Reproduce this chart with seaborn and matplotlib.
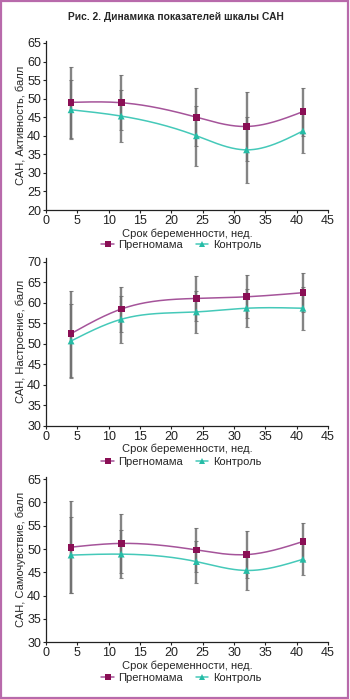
import numpy as np
import pandas as pd
import matplotlib
matplotlib.use('Agg')
import matplotlib.pyplot as plt
import seaborn as sns
from matplotlib.lines import Line2D
from matplotlib.patches import Rectangle

sns.set_style('ticks')
plt.rcParams['font.family'] = ['Liberation Sans', 'DejaVu Sans']

weeks = [4, 12, 24, 32, 41]

act_preg = [49.0, 48.9, 45.0, 42.5, 46.5]
act_preg_err = [9.5, 7.4, 7.8, 9.4, 6.5]
act_ctrl = [47.0, 45.3, 40.0, 36.2, 41.3]
act_ctrl_err = [8.0, 6.9, 8.1, 8.8, 6.0]

mood_preg = [52.5, 58.5, 61.1, 61.5, 62.5]
mood_preg_err = [10.5, 5.5, 5.4, 5.3, 4.8]
mood_ctrl = [50.7, 56.0, 57.8, 58.7, 58.7]
mood_ctrl_err = [9.0, 5.8, 5.1, 4.7, 5.2]

feel_preg = [50.4, 51.2, 49.8, 48.8, 51.6]
feel_preg_err = [9.9, 6.3, 4.7, 5.0, 3.9]
feel_ctrl = [48.7, 48.9, 47.3, 45.4, 47.8]
feel_ctrl_err = [8.1, 5.1, 4.5, 4.1, 3.4]

groups = ['Прегномама', 'Контроль']
ylabels = ['САН, Активность, балл', 'САН, Настроение, балл', 'САН, Самочувствие, балл']
ylims = [(20, 65.5), (30, 71), (30, 65.5)]
yticks = [range(20, 66, 5), range(30, 71, 5), range(30, 66, 5)]

line_col = {'Прегномама': '#a5549a', 'Контроль': '#45c9b9'}
mark_col = {'Прегномама': '#8a0f55', 'Контроль': '#26bca6'}
markers = {'Прегномама': 's', 'Контроль': '^'}


def spline(x, y, n=200):
    # natural cubic spline, only used to draw the smooth connecting line
    x = np.asarray(x, float)
    y = np.asarray(y, float)
    k = len(x)
    h = np.diff(x)
    A = np.zeros((k, k))
    b = np.zeros(k)
    A[0, 0] = A[-1, -1] = 1
    for i in range(1, k - 1):
        A[i, i - 1] = h[i - 1]
        A[i, i] = 2 * (h[i - 1] + h[i])
        A[i, i + 1] = h[i]
        b[i] = 6 * ((y[i + 1] - y[i]) / h[i] - (y[i] - y[i - 1]) / h[i - 1])
    M = np.linalg.solve(A, b)
    xs = np.linspace(x[0], x[-1], n)
    idx = np.clip(np.searchsorted(x, xs) - 1, 0, k - 2)
    x0, x1 = x[idx], x[idx + 1]
    hh = x1 - x0
    t0, t1 = x1 - xs, xs - x0
    ys = (M[idx] * t0**3 + M[idx + 1] * t1**3) / (6 * hh) \
        + (y[idx] / hh - M[idx] * hh / 6) * t0 \
        + (y[idx + 1] / hh - M[idx + 1] * hh / 6) * t1
    return xs, ys


panels = [
    (act_preg, act_preg_err, act_ctrl, act_ctrl_err),
    (mood_preg, mood_preg_err, mood_ctrl, mood_ctrl_err),
    (feel_preg, feel_preg_err, feel_ctrl, feel_ctrl_err),
]

W, H = 350, 699
fig = plt.figure(figsize=(W / 100, H / 100), dpi=100)
fig.patches.append(Rectangle((0.003, 0.002), 0.992, 0.996, transform=fig.transFigure,
                             fill=False, edgecolor='#b86aab', linewidth=1.6))
fig.text(0.503, 0.9757, 'Рис. 2. Динамика показателей шкалы САН',
         ha='center', va='center', fontsize=7.4, fontweight='bold')

# axes boxes in pixels: left, top, right, bottom
boxes = [(46, 41.1, 328, 210), (46, 257.9, 328, 425.7), (46, 476.7, 328, 642.3)]
legend_y = [245, 462, 678]

for k, (pv, pe, cv, ce) in enumerate(panels):
    l, t, r, b = boxes[k]
    ax = fig.add_axes([l / W, 1 - b / H, (r - l) / W, (b - t) / H])
    df = pd.DataFrame({
        'week': weeks * 2,
        'score': pv + cv,
        'err': pe + ce,
        'group': [groups[0]] * 5 + [groups[1]] * 5,
    })
    for g in groups:
        d = df[df['group'] == g]
        ax.errorbar(d['week'], d['score'], yerr=d['err'], fmt='none',
                    ecolor='#6f6f6f', elinewidth=1.7, capsize=1.6, capthick=0.8,
                    alpha=0.85, zorder=1)
    for g in groups:
        d = df[df['group'] == g]
        xs, ys = spline(d['week'], d['score'])
        sns.lineplot(x=xs, y=ys, ax=ax, color=line_col[g], linewidth=1.1,
                     sort=False, zorder=2)
    sns.scatterplot(data=df, x='week', y='score', hue='group', style='group',
                    markers=markers, palette=mark_col, s=24, linewidth=0,
                    ax=ax, zorder=3, legend=False)
    ax.set_xlim(0, 45)
    ax.set_ylim(*ylims[k])
    ax.set_xticks(range(0, 46, 5))
    ax.set_yticks(list(yticks[k]))
    sns.despine(ax=ax)
    for s in ['left', 'bottom']:
        ax.spines[s].set_linewidth(0.9)
        ax.spines[s].set_color('#222222')
    ax.tick_params(labelsize=9, length=2.5, width=0.8, pad=1, colors='#222222')
    ax.set_xlabel('Срок беременности, нед.', fontsize=8, labelpad=1)
    ax.set_ylabel(ylabels[k], fontsize=8, labelpad=1)
    handles = [Line2D([], [], color=line_col[g], marker=markers[g], markersize=4.5,
                      markerfacecolor=mark_col[g], markeredgewidth=0, linewidth=1.1)
               for g in groups]
    ax.legend(handles, groups, loc='center', bbox_to_anchor=(0.518, 1 - legend_y[k] / H),
              bbox_transform=fig.transFigure, ncol=2, frameon=False, fontsize=8,
              handlelength=1.1, handletextpad=0.4, columnspacing=1.2, borderaxespad=0)

fig.savefig('out.png', dpi=100)
